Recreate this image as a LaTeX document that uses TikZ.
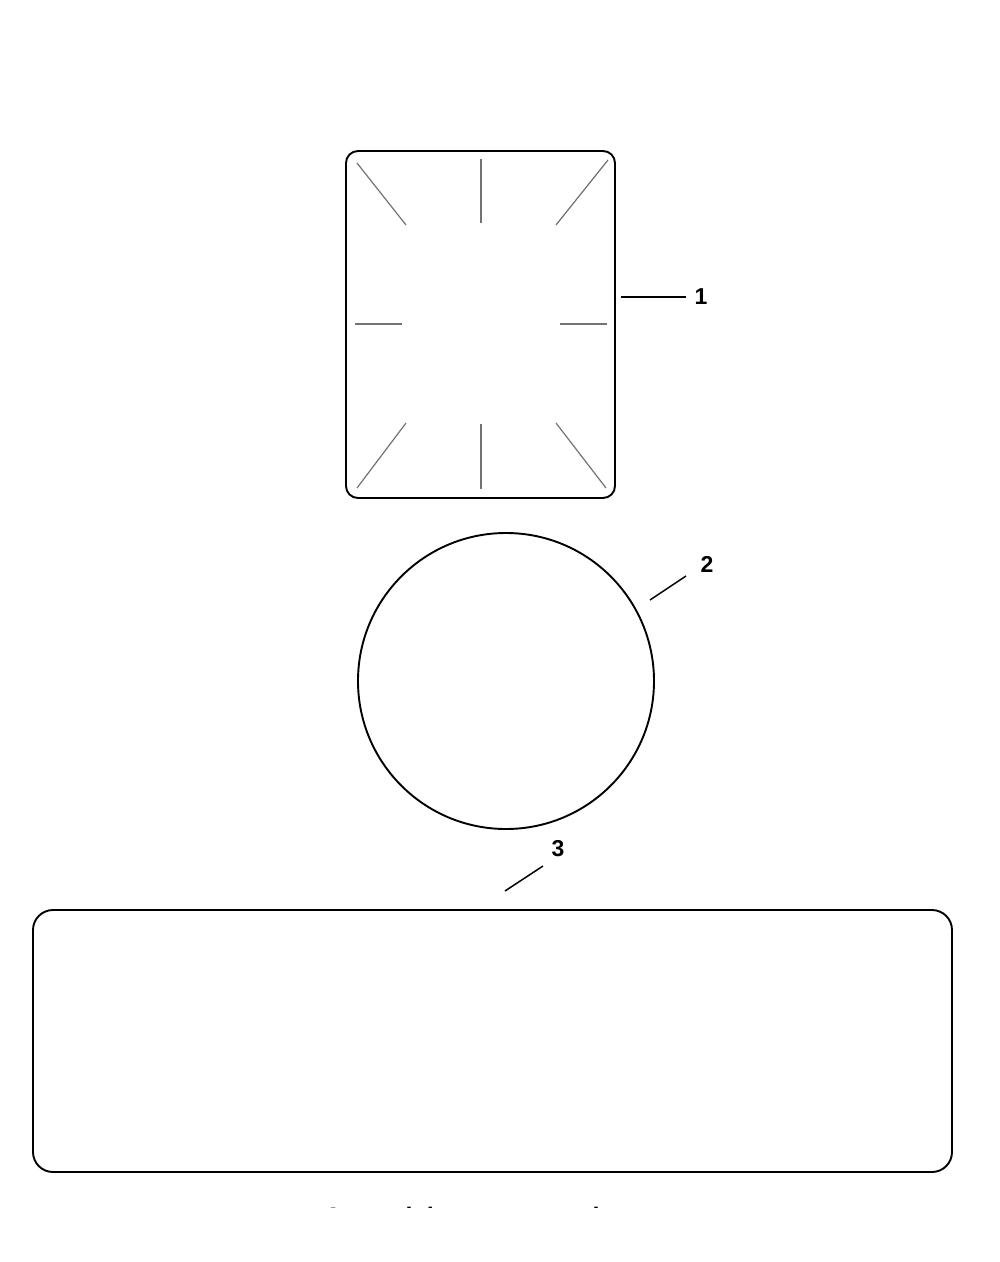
\documentclass[tikz,border=0pt]{standalone}
\usepackage{fontspec}
\setmainfont{Liberation Sans}
\begin{document}
\begin{tikzpicture}[x=1pt,y=-1pt,
  outline/.style={draw=black,line width=1.9pt},
  mark line/.style={draw=black!55,line width=1.2pt},
  leader/.style={draw=black,line width=1.5pt},
  callout/.style={font=\fontsize{23}{23}\selectfont\bfseries,inner sep=0pt}]
\useasboundingbox[fill=white] (0,0) rectangle (1000,1262);
% part 1: rounded rectangle
\node[outline,rounded corners=12pt,minimum width=269pt,minimum height=347pt,inner sep=0pt] (r1) at (480.5,324.5) {};
\draw[mark line] (357,163) -- (406,225);
\draw[mark line] (481,159) -- (481,223);
\draw[mark line] (608,160) -- (556,225);
\draw[mark line] (355,324) -- (402,324);
\draw[mark line] (560,324) -- (607,324);
\draw[mark line] (406,423) -- (357,488);
\draw[mark line] (481,424) -- (481,489);
\draw[mark line] (556,423) -- (606,488);
% part 2: circle
\node[outline,circle,minimum size=296pt,inner sep=0pt] (c2) at (506,681) {};
% part 3: wide rounded rectangle
\node[outline,rounded corners=20pt,minimum width=919pt,minimum height=262pt,inner sep=0pt] (r3) at (492.5,1041) {};
% callouts
\node[callout] (n1) at (701,297) {1};
\node[callout] (n2) at (707,564) {2};
\node[callout] (n3) at (558,849) {3};
\coordinate (p1) at (621,297);
\coordinate (q1) at (686,297);
\coordinate (p2) at (650,600);
\coordinate (q2) at (686,576);
\coordinate (p3) at (505,891);
\coordinate (q3) at (543,866);
\draw[leader] (p1) -- (q1);
\draw[leader] (p2) -- (q2);
\draw[leader] (p3) -- (q3);
% clipped footer text
\begin{scope}
\clip (0,0) rectangle (1000,1207.5);
\node[anchor=base west,inner sep=0pt,font=\fontsize{25.3}{25.3}\selectfont\bfseries] (foot) at (324,1225.5) {Artwork is representative};
\end{scope}
\end{tikzpicture}
\end{document}
